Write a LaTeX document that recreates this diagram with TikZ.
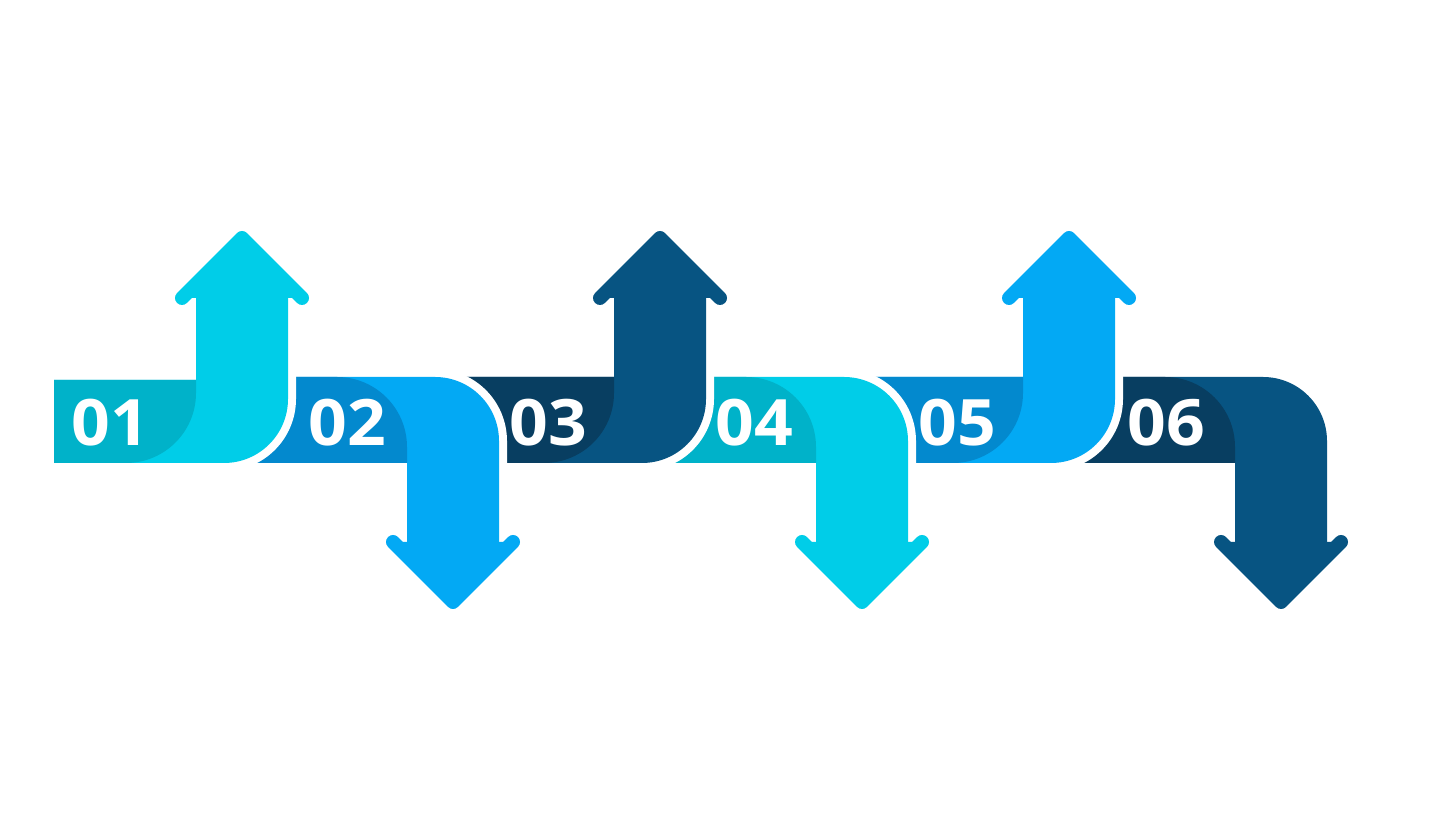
\documentclass[tikz,border=0pt]{standalone}
\usepackage{fontspec}
\newfontfamily\numfont{Open Sans}[FakeStretch=1.06]
\definecolor{tealdark}{HTML}{00B2C9}
\definecolor{tealmain}{HTML}{00CDE8}
\definecolor{bluedark}{HTML}{0389CE}
\definecolor{bluemain}{HTML}{03A9F4}
\definecolor{navydark}{HTML}{083E61}
\definecolor{navymain}{HTML}{075482}
\begin{document}
\begin{tikzpicture}[x=1pt,y=1pt,
    body/.style={preaction={draw=white,line width=16pt}},
    head/.style={line width=14pt,line join=round,line cap=round},
    numtext/.style={text=white,anchor=base,font=\numfont\bfseries\fontsize{64}{64}\selectfont}]
  \useasboundingbox (0,0) rectangle (1440,840);
  % 06
  \begin{scope}[shift={(1235,420)},yscale=-1]
    \fill[body,navymain] (-190,43) -- (0,43) -- (0,122) -- (92,122) -- (92,21)
      arc[start angle=0,end angle=-90,radius=64] -- (-190,-43) -- cycle;
    \filldraw[head,navymain] (-14,122) -- (46,182) -- (106,122);
    \fill[navydark] (-190,43) -- (0,43) -- (0,27)
      arc[start angle=0,end angle=-90,radius=70] -- (-190,-43) -- cycle;
  \end{scope}
  \node[numtext] (n6) at (1166,394) {06};
  % 05
  \begin{scope}[shift={(1023,420)}]
    \fill[body,bluemain] (-190,43) -- (0,43) -- (0,122) -- (92,122) -- (92,21)
      arc[start angle=0,end angle=-90,radius=64] -- (-190,-43) -- cycle;
    \filldraw[head,bluemain] (-14,122) -- (46,182) -- (106,122);
    \fill[bluedark] (-190,43) -- (0,43) -- (0,27)
      arc[start angle=0,end angle=-90,radius=70] -- (-190,-43) -- cycle;
  \end{scope}
  \node[numtext] (n5) at (957,394) {05};
  % 04
  \begin{scope}[shift={(816,420)},yscale=-1]
    \fill[body,tealmain] (-190,43) -- (0,43) -- (0,122) -- (92,122) -- (92,21)
      arc[start angle=0,end angle=-90,radius=64] -- (-190,-43) -- cycle;
    \filldraw[head,tealmain] (-14,122) -- (46,182) -- (106,122);
    \fill[tealdark] (-190,43) -- (0,43) -- (0,27)
      arc[start angle=0,end angle=-90,radius=70] -- (-190,-43) -- cycle;
  \end{scope}
  \node[numtext] (n4) at (754,394) {04};
  % 03
  \begin{scope}[shift={(614,420)}]
    \fill[body,navymain] (-190,43) -- (0,43) -- (0,122) -- (92,122) -- (92,21)
      arc[start angle=0,end angle=-90,radius=64] -- (-190,-43) -- cycle;
    \filldraw[head,navymain] (-14,122) -- (46,182) -- (106,122);
    \fill[navydark] (-190,43) -- (0,43) -- (0,27)
      arc[start angle=0,end angle=-90,radius=70] -- (-190,-43) -- cycle;
  \end{scope}
  \node[numtext] (n3) at (548,394) {03};
  % 02
  \begin{scope}[shift={(407,420)},yscale=-1]
    \fill[body,bluemain] (-190,43) -- (0,43) -- (0,122) -- (92,122) -- (92,21)
      arc[start angle=0,end angle=-90,radius=64] -- (-190,-43) -- cycle;
    \filldraw[head,bluemain] (-14,122) -- (46,182) -- (106,122);
    \fill[bluedark] (-190,43) -- (0,43) -- (0,27)
      arc[start angle=0,end angle=-90,radius=70] -- (-190,-43) -- cycle;
  \end{scope}
  \node[numtext] (n2) at (347,394) {02};
  % 01
  \begin{scope}[shift={(196,420)}]
    \fill[body,tealmain] (-142,40) -- (0,40) -- (0,122) -- (92,122) -- (92,21)
      arc[start angle=0,end angle=-90,radius=64] -- (-142,-43) -- cycle;
    \filldraw[head,tealmain] (-14,122) -- (46,182) -- (106,122);
    \fill[tealdark] (-142,40) -- (0,40) -- (0,27)
      arc[start angle=0,end angle=-90,radius=70] -- (-142,-43) -- cycle;
  \end{scope}
  \node[numtext] (n1) at (110,394) {01};
\end{tikzpicture}
\end{document}
